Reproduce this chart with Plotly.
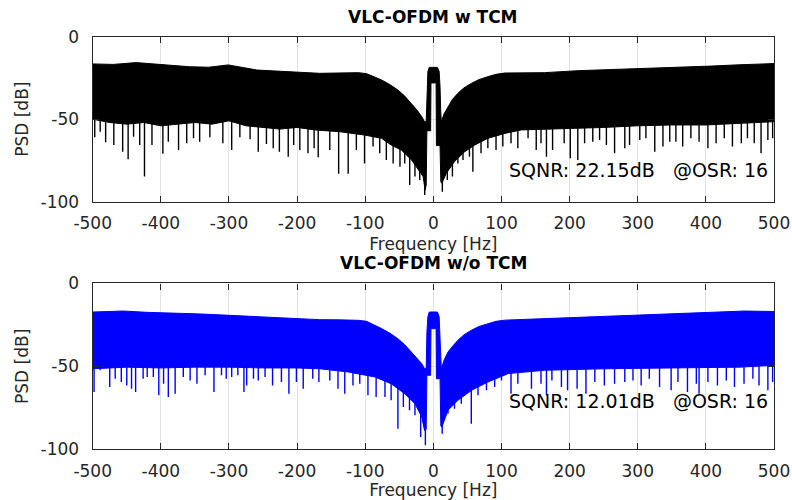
import numpy as np
import plotly.graph_objects as go

# ---------------- data ----------------
# Upper envelope of the PSD (top panel, with TCM)
f_up_tcm = [-500, -470, -436, -400, -358, -330, -301, -259, -220, -167, -140, -110, -98, -88, -76, -64, -52, -42, -32, -24, -17,
            -13, -10.5, -9.5, -8, -6, 0, 6, 8.5, 9.8, 10.8, 11.7, 16, 21.5, 28, 36, 45, 55.7, 67, 80, 92, 105, 130, 163, 212,
            260, 310, 360, 408, 450, 500]
psd_up_tcm = [-16.5, -16.8, -15.7, -17, -18.2, -18.5, -17.1, -20.2, -21, -22.2, -22, -21.8, -22.4, -24, -26.2, -29, -32.3, -36,
              -40.4, -44.5, -48.5, -51.5, -51.5, -30, -21, -18.6, -18.6, -18.6, -21, -30, -45, -51.5, -46.5, -42.4, -38, -34.3,
              -31, -28.3, -26, -24.2, -22.8, -22, -22, -21.8, -20.6, -20, -19.2, -18.5, -17.8, -17, -16.3]
# Lower edge of the dense body (top panel)
f_lo_tcm = [-500, -475, -450, -425, -400, -375, -350, -325, -300, -275, -250, -225, -200, -174, -137, -101, -76, -62, -47, -32,
            -22, -15, -12, -10.5, -9.5, -4, -3.5, 4, 4.5, 9.8, 11, 12.5, 19, 31, 46, 61, 80, 105, 129, 163, 200, 250, 300,
            350, 400, 450, 500]
psd_lo_tcm = [-50, -52, -53, -52, -54, -53, -52, -53, -51, -54, -55, -56, -55, -56.5, -57.6, -59.6, -61.6, -65.6, -68.7, -74.7,
              -80.8, -84.8, -93, -90, -57, -57, -28, -28, -66, -66, -88, -88.8, -82.8, -75.7, -69.7, -65.6, -61.6, -58.6,
              -56.5, -56, -55.5, -55, -54, -53.5, -53.5, -52.5, -51.5]
# Downward spikes (frequency, tip level) - top panel
spike_f_tcm = [-497, -489, -481, -469, -456, -448, -440, -431, -424, -413, -397, -389, -374, -362, -352, -343, -328, -309,
               -296, -284, -269, -257, -245, -235, -226, -213, -205, -196, -184, -175, -169, -152, -139, -125, -113, -101,
               -88.5, -78.7, -69, -59, -49, -42, -34.7, -27, -20, -12.7,
               13.2, 20.5, 28, 36, 43.5, 53, 58, 70, 80, 92, 102, 114, 124, 139, 151, 158, 166, 175, 192, 201, 212, 222,
               234, 244, 254, 266, 281, 288, 303, 312, 325, 337, 347, 356, 366, 378, 390, 403, 415, 427, 439, 452, 461,
               471, 481, 491, 498]
spike_psd_tcm = [-61, -57.6, -64, -65.6, -69.7, -74.3, -60.6, -65.6, -84.8, -65.6, -71, -63.6, -68.7, -64.6, -61.6, -63.6,
                 -61, -64.6, -68.7, -61, -62.2, -69.7, -65, -67.6, -69.7, -72.7, -65.6, -68.7, -70.7, -67.6, -73, -68.7,
                 -83, -83, -68.7, -76.8, -66.6, -70.7, -74.7, -76.8, -78.8, -76.8, -89.9, -84.8, -86.8, -95.9,
                 -93.9, -86.8, -84.8, -76.8, -74.7, -72.7, -81.8, -70.7, -67.6, -68.7, -66.6, -64.6, -67.6, -61.6, -68.7,
                 -64.6, -72.7, -68.7, -64.6, -73.7, -74.7, -64.6, -63.6, -62.6, -65.6, -70.7, -67.6, -65.6, -62.6, -61.6,
                 -69.7, -66.6, -63.6, -63.6, -66.6, -61.6, -63.6, -67.6, -64.6, -61.6, -66.6, -64.6, -61.6, -64.6, -70.7,
                 -62.6, -61.6]

# Bottom panel (without TCM)
f_up_notcm = [-500, -455, -420, -382, -340, -299, -250, -211, -167, -140, -110, -98, -88, -76, -64, -52, -42, -32, -24, -17,
              -13, -10.5, -9.5, -8, -6, 0, 6, 8.5, 9.8, 10.8, 11.7, 16, 21.5, 28, 36, 45, 55.7, 67, 80, 92, 105, 130, 163,
              212, 261, 310, 359, 408, 457, 500]
psd_up_notcm = [-17.3, -16.7, -17.5, -17.9, -18.5, -19.3, -20.3, -21.3, -21.9, -22, -22.3, -22.9, -24.8, -27.3, -30, -33.4,
                -37, -41.4, -45, -48.4, -51.4, -51.4, -30, -20, -17.3, -17.3, -17.3, -20, -30, -45, -51.4, -46, -41.4, -38,
                -34.3, -31, -28.3, -26, -24.3, -22.9, -22.2, -21.8, -21.3, -20.5, -19.9, -19, -18.3, -17.5, -16.7, -17]
f_lo_notcm = [-500, -450, -400, -350, -300, -250, -200, -167, -125, -86, -62, -42, -27, -17, -13, -10.5, -9.5, -4, -3.5, 4,
              4.5, 9.8, 11, 12.5, 21.5, 36, 56, 80, 110, 163, 250, 350, 450, 500]
psd_lo_notcm = [-51.5, -50.5, -51, -50.5, -50.5, -51, -51, -51.5, -53.4, -56.4, -60.5, -66.5, -72.5, -80.5, -88.6, -88,
                -55.4, -55.4, -27.3, -27.3, -57.5, -57.5, -86, -86.6, -76.5, -70.5, -64.5, -59.5, -54.4, -52.4, -51.5,
                -51, -50.5, -49.4]
spike_f_notcm = [-498, -489, -475, -467, -458, -450, -443, -437, -426, -420, -411, -403, -396, -389, -379, -367, -357, -347,
                 -335, -322, -311, -304, -296, -287, -278, -274, -264, -257, -247, -236, -223, -212, -201, -191, -177,
                 -168, -152, -140, -130, -118, -108, -96, -84, -71, -62, -52, -44, -35, -27, -18.6, -11.7,
                 13, 21.5, 31, 41, 55.7, 65.5, 78, 90, 100, 114, 124, 144, 158, 166, 174, 188, 197, 211, 224, 237, 251,
                 266, 281, 293, 305, 317, 332, 349, 359, 373, 386, 390, 403, 417, 430, 442, 456, 469, 478, 491, 498]
spike_psd_notcm = [-65.5, -52.4, -62.5, -57.5, -59.5, -61.5, -63.5, -65.5, -57.5, -56.4, -56.4, -67.5, -60.5, -68.5, -66.5,
                   -56.4, -58.5, -60.5, -55.4, -65.5, -55.4, -57.5, -56.4, -55.4, -65.5, -61.5, -57.5, -58.5, -56.4,
                   -61.5, -59.5, -66.5, -59.5, -63.5, -57.5, -59.5, -58.5, -63.5, -66.5, -61.5, -60.5, -67.5, -68.5,
                   -68.5, -70.5, -87.6, -74.5, -76.5, -79.5, -92.6, -97.6,
                   -90.6, -78.5, -75.5, -72.5, -84.6, -67.5, -64.5, -62.5, -58.5, -66.5, -60.5, -63.5, -60.5, -67.5,
                   -58.5, -62.5, -64.5, -63.5, -66.5, -59.5, -61.5, -60.5, -59.5, -58.5, -61.5, -57.5, -62.5, -64.5,
                   -59.5, -65.5, -60.5, -66.5, -59.5, -61.5, -58.5, -62.5, -60.5, -57.5, -61.5, -64.5, -59.5]

titles = ["VLC-OFDM w TCM", "VLC-OFDM w/o TCM"]
sqnr_labels = ["SQNR: 22.15dB\u00a0\u00a0\u00a0@OSR: 16", "SQNR: 12.01dB\u00a0\u00a0\u00a0@OSR: 16"]
sqnr_y = [-81, -71]
x_ticks = [-500, -400, -300, -200, -100, 0, 100, 200, 300, 400, 500]
x_ticktext = ["-500", "-400", "-300", "-200", "-100", "0", "100", "200", "300", "400", "500"]
y_ticks = [-100, -50, 0]
y_ticktext = ["-100", "-50", "0"]

# ---------------- figure ----------------
W, H = 792, 500
TXT = "#262626"
FONT = "DejaVu Sans, Liberation Sans, Arial, sans-serif"

fig = go.Figure()


def add_panel(fu, pu, fl, pl, sf, sp, color, xa, ya):
    # dense body as a polygon: upper edge left->right, lower edge right->left
    px = list(fu) + list(fl)[::-1] + [fu[0]]
    py = list(pu) + list(pl)[::-1] + [pu[0]]
    fig.add_trace(go.Scatter(x=px, y=py, mode="lines", fill="toself", fillcolor=color,
                             line=dict(color=color, width=1), xaxis=xa, yaxis=ya,
                             hoverinfo="skip", showlegend=False))
    # spikes reaching down from the body
    base = np.interp(sf, fl, pl) + 3
    sx, sy = [], []
    for f, t, b in zip(sf, sp, base):
        sx += [f, f, None]
        sy += [t, b, None]
    fig.add_trace(go.Scatter(x=sx, y=sy, mode="lines", line=dict(color=color, width=1.4),
                             xaxis=xa, yaxis=ya, hoverinfo="skip", showlegend=False))


add_panel(f_up_tcm, psd_up_tcm, f_lo_tcm, psd_lo_tcm, spike_f_tcm, spike_psd_tcm, "#000000", "x", "y")
add_panel(f_up_notcm, psd_up_notcm, f_lo_notcm, psd_lo_notcm, spike_f_notcm, spike_psd_notcm, "#0000ff", "x2", "y2")

x0, x1 = 92.7 / W, 774 / W
doms_y = [[1 - 201.7 / H, 1 - 36.7 / H], [1 - 449.3 / H, 1 - 283.3 / H]]

axis_common = dict(showline=True, mirror="allticks", linecolor=TXT, linewidth=1.4,
                   ticks="inside", ticklen=6, tickwidth=1.4, tickcolor=TXT,
                   showgrid=True, gridcolor="#e3e3e3", gridwidth=1, zeroline=False,
                   tickfont=dict(family=FONT, size=17, color=TXT))

layout_axes = {}
for i, (xa, ya) in enumerate([("xaxis", "yaxis"), ("xaxis2", "yaxis2")]):
    yname = "y" if i == 0 else "y2"
    xname = "x" if i == 0 else "x2"
    layout_axes[xa] = dict(axis_common, domain=[x0, x1], range=[-500, 500], tickvals=x_ticks, ticktext=x_ticktext,
                           anchor=yname, ticklabelstandoff=6,
                           title=dict(text="Frequency [Hz]", font=dict(family=FONT, size=17, color=TXT), standoff=5))
    layout_axes[ya] = dict(axis_common, domain=doms_y[i], range=[-100, 0], tickvals=y_ticks, ticktext=y_ticktext,
                           anchor=xname, ticklabelstandoff=9,
                           title=dict(text="PSD [dB]", font=dict(family=FONT, size=17, color=TXT), standoff=7))

annotations = []
for i in range(2):
    top_px = 36.7 if i == 0 else 283.3
    annotations.append(dict(text="<b>%s</b>" % titles[i], xref="paper", yref="paper",
                            x=(x0 + x1) / 2, y=1 - (top_px - 8) / H, xanchor="center", yanchor="bottom",
                            showarrow=False, font=dict(family=FONT, size=17, color="#000000")))
    annotations.append(dict(text=sqnr_labels[i], xref="x" if i == 0 else "x2", yref="y" if i == 0 else "y2",
                            x=494, y=sqnr_y[i], xanchor="right", yanchor="middle", showarrow=False,
                            font=dict(family=FONT, size=19, color="#000000")))

fig.update_layout(width=W, height=H, margin=dict(l=0, r=0, t=0, b=0, autoexpand=False),
                  paper_bgcolor="white", plot_bgcolor="white", annotations=annotations,
                  font=dict(family=FONT, color=TXT), **layout_axes)

fig.write_html("out.html", config={"displayModeBar": False},
               post_script="document.body.style.margin='0px';document.body.style.overflow='hidden';")
